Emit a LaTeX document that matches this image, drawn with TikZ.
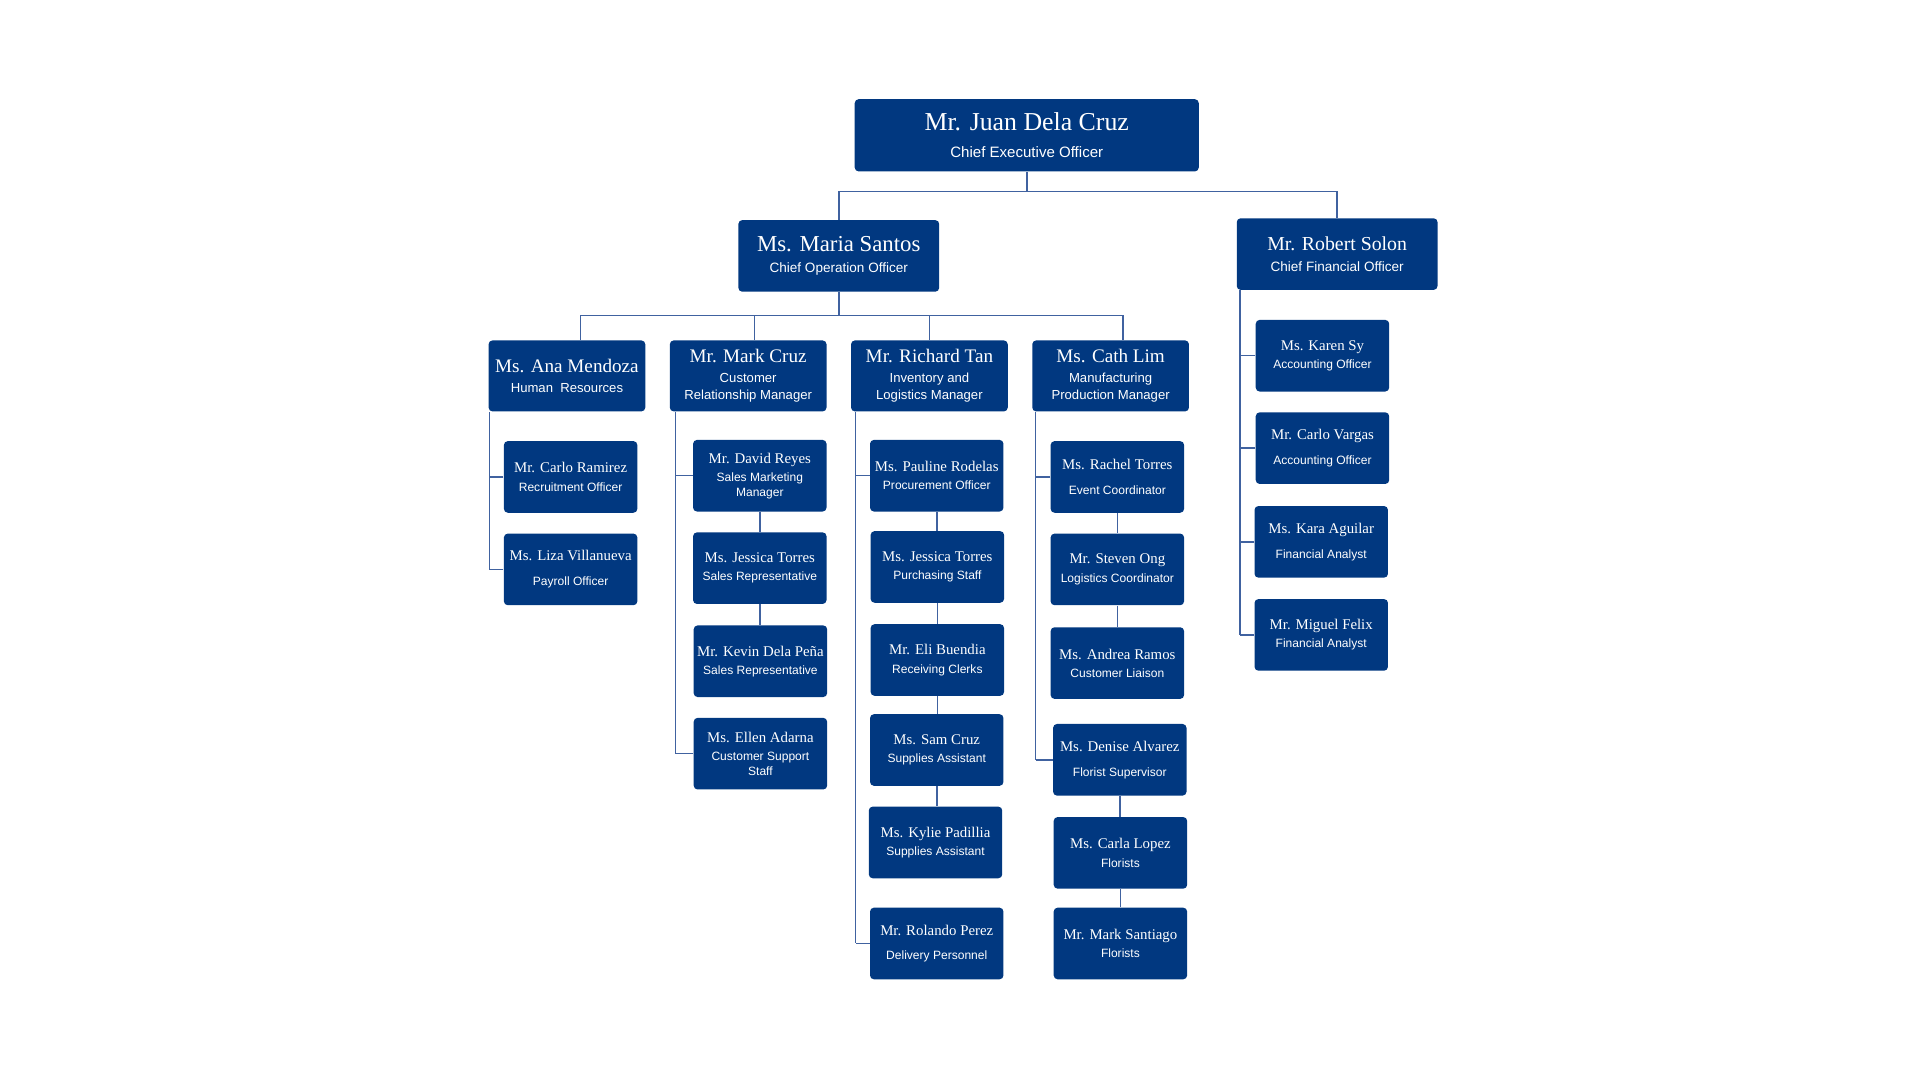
\documentclass[tikz,border=0pt]{standalone}
\usepackage{fontspec}
\setmainfont{Liberation Sans}
\newfontfamily\namefont{Liberation Serif}
\definecolor{navy}{RGB}{1,56,128}
\definecolor{linkblue}{RGB}{64,98,160}
% name line of a box, size and gap come from the box style
\newcommand{\nm}[1]{{\namefont\namesize #1}\rule[-\namedp]{0pt}{0pt}}

\begin{document}
\begin{tikzpicture}[x=0.02cm,y=-0.02cm,
  box/.style={fill=navy,text=white,rounded corners=1.8pt,align=center,inner sep=0pt},
  ceo/.style={box,minimum width=5.62cm,minimum height=1.18cm,
    font=\fontsize{7}{9}\selectfont\def\namesize{\fontsize{12}{14}\selectfont}\def\namedp{6.4pt}},
  head/.style={box,minimum width=3.28cm,minimum height=1.17cm,
    font=\fontsize{6.3}{8}\selectfont\def\namesize{\fontsize{10.6}{12}\selectfont}\def\namedp{4pt}},
  lead/.style={box,minimum width=2.56cm,minimum height=1.16cm,
    font=\fontsize{6.1}{8}\selectfont\def\namesize{\fontsize{8.9}{10}\selectfont}\def\namedp{3.85pt}},
  staff/.style={box,minimum width=2.18cm,minimum height=1.17cm,
    font=\fontsize{5.6}{6.8}\selectfont\def\namesize{\fontsize{6.9}{8}\selectfont}\def\namedp{3.4pt}},
  link/.style={draw=linkblue,line width=0.7pt}]
\useasboundingbox (0,0) rectangle (1568,882);

% top
\node[ceo] (juan) at (838.5,110.5) {\nm{Mr. Juan Dela Cruz}\\Chief Executive Officer};
\node[head] (maria) at (685,209) {\nm{Ms. Maria Santos}\\Chief Operation Officer};
\node[head] (robert) at (1092,207.5) {{\def\namesize{\fontsize{9.2}{11}\selectfont}\nm{Mr. Robert Solon}}\\Chief Financial Officer};

% managers
\node[lead] (ana) at (463,307) {\nm{Ms. Ana Mendoza}\\Human\ \ Resources};
\node[lead] (mark) at (611,307) {\nm{Mr. Mark Cruz}\\Customer\\Relationship Manager};
\node[lead] (richard) at (759,307) {\nm{Mr. Richard Tan}\\Inventory and\\Logistics Manager};
\node[lead] (cath) at (907,307) {\nm{Ms. Cath Lim}\\Manufacturing\\Production Manager};

% human resources
\node[staff] (carlo) at (466,389.5) {\nm{Mr. Carlo Ramirez}\\Recruitment Officer};
\node[staff] (liza) at (466,465) {\nm{Ms. Liza Villanueva}\\[3pt]Payroll Officer};

% customer relationship
\node[staff] (david) at (620.5,388.5) {\nm{Mr. David Reyes}\\Sales Marketing\\Manager};
\node[staff] (jessica) at (620.5,464) {\nm{Ms. Jessica Torres}\\Sales Representative};
\node[staff] (kevin) at (621,540) {\nm{Mr. Kevin Dela Peña}\\Sales Representative};
\node[staff] (ellen) at (621,615.5) {\nm{Ms. Ellen Adarna}\\Customer Support\\Staff};

% inventory and logistics
\node[staff] (pauline) at (765,388.5) {\nm{Ms. Pauline Rodelas}\\Procurement Officer};
\node[staff] (jtorres) at (765.5,463) {\nm{Ms. Jessica Torres}\\Purchasing Staff};
\node[staff] (eli) at (765.5,539) {\nm{Mr. Eli Buendia}\\Receiving Clerks};
\node[staff] (sam) at (765,612.5) {\nm{Ms. Sam Cruz}\\Supplies Assistant};
\node[staff] (kylie) at (764,688) {\nm{Ms. Kylie Padillia}\\Supplies Assistant};
\node[staff] (rolando) at (765,770.5) {\nm{Mr. Rolando Perez}\\[3pt]Delivery Personnel};

% manufacturing
\node[staff] (rachel) at (912.5,389.5) {\nm{Ms. Rachel Torres}\\[3pt]Event Coordinator};
\node[staff] (steven) at (912.5,465) {\nm{Mr. Steven Ong}\\Logistics Coordinator};
\node[staff] (andrea) at (912.5,541.5) {\nm{Ms. Andrea Ramos}\\Customer Liaison};
\node[staff] (denise) at (914.5,620.5) {\nm{Ms. Denise Alvarez}\\[3pt]Florist Supervisor};
\node[staff] (carla) at (915,696.5) {\nm{Ms. Carla Lopez}\\Florists};
\node[staff] (santiago) at (915,770.5) {\nm{Mr. Mark Santiago}\\Florists};

% finance
\node[staff] (karen) at (1080,290.5) {\nm{Ms. Karen Sy}\\Accounting Officer};
\node[staff] (vargas) at (1080,366) {\nm{Mr. Carlo Vargas}\\[3pt]Accounting Officer};
\node[staff] (kara) at (1079,442.5) {\nm{Ms. Kara Aguilar}\\[3pt]Financial Analyst};
\node[staff] (miguel) at (1079,518.5) {\nm{Mr. Miguel Felix}\\Financial Analyst};

% buses
\path (juan.south) ++(0,16) coordinate (busa);
\draw[link] (juan.south) -- (busa);
\draw[link] (maria.north) |- (busa) -| (robert.north);
\path (maria.south) ++(0,19) coordinate (busb);
\draw[link] (maria.south) -- (busb);
\draw[link] ([xshift=0.22cm]ana.north) |- (busb) -| ([xshift=0.2cm]cath.north);
\draw[link] ([xshift=0.1cm]mark.north) -- ([xshift=0.1cm]mark.north |- busb);
\draw[link] (richard.north) -- (richard.north |- busb);

% trunks
\coordinate (anat) at ([xshift=0.02cm]ana.south west);
\coordinate (markt) at ([xshift=0.1cm]mark.south west);
\coordinate (richt) at ([xshift=0.08cm]richard.south west);
\coordinate (catht) at ([xshift=0.06cm]cath.south west);
\coordinate (robt) at ([xshift=0.06cm]robert.south west);
\draw[link] (anat) -- (anat |- liza.west);
\draw[link] (markt) -- (markt |- ellen.west);
\draw[link] (richt) -- (richt |- rolando.west);
\draw[link] (catht) -- (catht |- denise.west);
\draw[link] (robt) -- (robt |- miguel.west);
\foreach \s/\t in {carlo/anat,liza/anat,david/markt,ellen/markt,pauline/richt,
  rolando/richt,rachel/catht,denise/catht,karen/robt,vargas/robt,kara/robt,miguel/robt}
  \draw[link] (\s.west) -- (\s.west -| \t);

% chains
\foreach \a/\b in {david/jessica,jessica/kevin,pauline/jtorres,jtorres/eli,eli/sam,
  sam/kylie,rachel/steven,steven/andrea,denise/carla,carla/santiago}
  \draw[link] (\a.south) -- (\a.south |- \b.north);
\end{tikzpicture}
\end{document}
